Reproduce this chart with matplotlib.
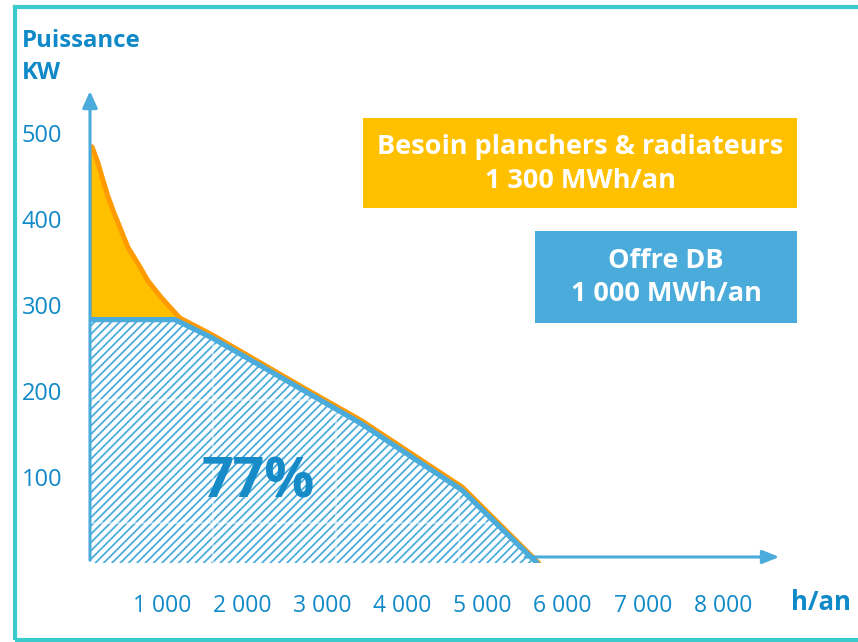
import numpy as np
import matplotlib.pyplot as plt
from matplotlib.patches import Rectangle
from matplotlib.transforms import ScaledTranslation

plt.rcParams['font.family'] = ['Open Sans', 'DejaVu Sans']
plt.rcParams['hatch.linewidth'] = 1.3

# Demand curve (orange) : hours / kW
demand_h = [0, 25, 100, 162, 225, 300, 387, 474, 599, 724, 886, 1061, 1120,
            1530, 2660, 3380, 4650, 5600]
demand_kw = [484, 484, 465, 445, 426, 407, 387, 367, 348, 328, 309, 291, 285,
             265, 204, 166, 88, 0]

# Supply curve (blue, DB offer)
supply_h = [0, 1060, 1520, 2660, 3370, 4640, 5580]
supply_kw = [283, 283, 262, 201, 163, 85, 0]

x_ticks = [1000, 2000, 3000, 4000, 5000, 6000, 7000, 8000]
x_labels = ['1 000', '2 000', '3 000', '4 000', '5 000', '6 000', '7 000', '8 000']
y_ticks = [100, 200, 300, 400, 500]

blue = '#4BACDB'
text_blue = '#1089C8'
orange_line = '#FF9A00'
gold = '#FFC000'

W, H = 858, 642
fig = plt.figure(figsize=(W / 100, H / 100), dpi=100)
ax = fig.add_axes([90 / W, (H - 563) / H, 721 / W, 473 / H])
ax.set_xlim(0, 9000)
ax.set_ylim(0, 550)
for s in ax.spines.values():
    s.set_visible(False)

# hatched area = supply
ax.fill_between(supply_h, 0, supply_kw, facecolor='white', edgecolor=blue,
                linewidth=0, hatch='////', zorder=1)
# faint gridlines visible only over the hatch
for gx in [1536, 3071, 4607]:
    ax.axvline(gx, color='white', lw=1.2, alpha=0.55, zorder=2)
for gy in [190, 47]:
    ax.axhline(gy, color='white', lw=1.2, alpha=0.55, zorder=2)

# orange area = demand not covered
base = np.interp(demand_h, supply_h, supply_kw)
ax.fill_between(demand_h, base, demand_kw, facecolor=gold, edgecolor='none', zorder=3)
ax.plot(demand_h[1:], demand_kw[1:], color=orange_line, lw=3.6, zorder=4,
        solid_joinstyle='round', solid_capstyle='round')
ax.plot([3, 3], [283, demand_kw[0]], color=orange_line, lw=2.0, zorder=4)
ax.plot(supply_h, supply_kw, color=blue, lw=3.8, zorder=5,
        solid_joinstyle='round', solid_capstyle='round')

# axis arrows
ax.annotate('', xy=(0, 552), xytext=(0, 0),
            arrowprops=dict(arrowstyle='-|>,head_length=1.0,head_width=0.45',
                            color=blue, lw=2.2), zorder=6, annotation_clip=False)
ax.annotate('', xy=(8640, 7), xytext=(5400, 7),
            arrowprops=dict(arrowstyle='-|>,head_length=1.0,head_width=0.4',
                            color=blue, lw=2.2), zorder=6, annotation_clip=False)

ax.set_xticks(x_ticks)
ax.set_xticklabels(x_labels)
ax.set_yticks(y_ticks)
ax.tick_params(length=0, colors=text_blue)
ax.tick_params(axis='x', labelsize=16.5, pad=22)
ax.tick_params(axis='y', labelsize=17, pad=20)
off = ScaledTranslation(-8 / 100, 0, fig.dpi_scale_trans)
for lab in ax.get_xticklabels():
    lab.set_transform(lab.get_transform() + off)

ax.text(2097, 93, '77%', fontsize=40, fontweight='bold', color='#168BC8',
        ha='center', va='center', zorder=7)

# titles
fig.text(22 / W, 1 - 41 / H, 'Puissance', fontsize=17.3, fontweight='bold',
         color=text_blue, ha='left', va='center')
fig.text(22 / W, 1 - 73 / H, 'KW', fontsize=17.3, fontweight='bold',
         color=text_blue, ha='left', va='center')
fig.text(791 / W, 1 - 603 / H, 'h/an', fontsize=18.5, fontweight='bold',
         color=text_blue, ha='left', va='center')

# legend boxes
fig.patches.append(Rectangle((363 / W, 1 - 208 / H), 434 / W, 90 / H,
                             transform=fig.transFigure, facecolor=gold, edgecolor='none'))
fig.text(580 / W, 1 - 164 / H, 'Besoin planchers & radiateurs\n1 300 MWh/an',
         fontsize=19.5, fontweight='bold', color='white', ha='center', va='center',
         linespacing=1.35)
fig.patches.append(Rectangle((535 / W, 1 - 323 / H), 262 / W, 92 / H,
                             transform=fig.transFigure, facecolor=blue, edgecolor='none'))
fig.text(666 / W, 1 - 278 / H, 'Offre DB\n1 000 MWh/an',
         fontsize=19.5, fontweight='bold', color='white', ha='center', va='center',
         linespacing=1.35)

# frame (right side runs off the picture)
fig.patches.append(Rectangle((15 / W, 1 - 640 / H), 900 / W, 633 / H,
                             transform=fig.transFigure, facecolor='none',
                             edgecolor='#3CCBCB', lw=3))

fig.savefig('out.png', dpi=100)
